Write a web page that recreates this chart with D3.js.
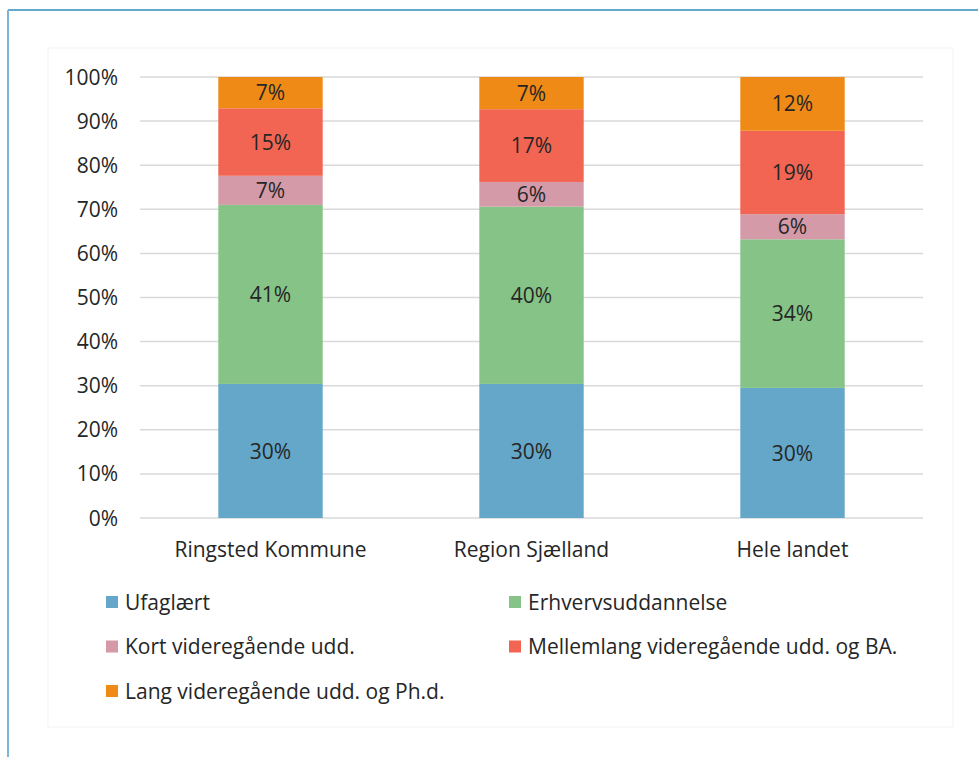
<!DOCTYPE html>
<meta charset="utf-8">
<html>
<head>
<style>
  body { margin: 0; background: #fff; }
  svg text { font-family: "Open Sans", "Noto Sans", sans-serif; fill: #262626; }
  .grid line { stroke: #d9d9d9; stroke-width: 1.5; }
</style>
</head>
<body>
<svg width="978" height="757"></svg>
<script src="https://d3js.org/d3.v7.min.js"></script>
<script>
// data
var regions = ["Ringsted Kommune", "Region Sjælland", "Hele landet"];
var series = ["Ufaglært", "Erhvervsuddannelse", "Kort videregående udd.",
              "Mellemlang videregående udd. og BA.", "Lang videregående udd. og Ph.d."];
var ufaglaert = [30.4, 30.4, 29.5];
var erhverv   = [40.6, 40.2, 33.7];
var kort      = [6.6, 5.6, 5.7];
var mellem    = [15.3, 16.5, 18.9];
var lang      = [7.1, 7.3, 12.2];
var yTicks = [0, 10, 20, 30, 40, 50, 60, 70, 80, 90, 100];
var colors = ["#64a7c9", "#85c386", "#d49aa8", "#f26553", "#f08a16"];

var svg = d3.select("svg"),
    margin = {top: 77, right: 55, bottom: 239, left: 140},
    width = 978 - margin.left - margin.right,
    height = 757 - margin.top - margin.bottom,
    fontSize = "21px";

// outer frame
svg.append("line").attr("x1", 8).attr("x2", 978).attr("y1", 10).attr("y2", 10)
   .attr("stroke", "#64a8cc").attr("stroke-width", 2);
svg.append("line").attr("x1", 8).attr("x2", 8).attr("y1", 10).attr("y2", 757)
   .attr("stroke", "#7ab6d6").attr("stroke-width", 2);
// chart area frame
svg.append("rect").attr("x", 48).attr("y", 48).attr("width", 905).attr("height", 679)
   .attr("fill", "none").attr("stroke", "#f3f3f3");

var g = svg.append("g").attr("transform", "translate(" + margin.left + "," + margin.top + ")");

var x = d3.scaleBand().domain(regions).range([0, width]).paddingInner(0.6).paddingOuter(0.3);
var y = d3.scaleLinear().domain([0, 100]).range([height, 0]);

g.append("g").attr("class", "grid")
  .selectAll("line").data(yTicks).enter().append("line")
  .attr("x1", 0).attr("x2", width)
  .attr("y1", function(d) { return y(d); }).attr("y2", function(d) { return y(d); });

g.append("g").selectAll("text").data(yTicks).enter().append("text")
  .attr("x", -22).attr("y", function(d) { return y(d); })
  .attr("dy", "0.36em").attr("text-anchor", "end")
  .style("font-size", fontSize)
  .text(function(d) { return d + "%"; });

var table = regions.map(function(r, i) {
  return {region: r, s0: ufaglaert[i], s1: erhverv[i], s2: kort[i], s3: mellem[i], s4: lang[i]};
});
var stack = d3.stack().keys(["s0", "s1", "s2", "s3", "s4"]);
var layers = stack(table);

var layer = g.selectAll(".layer").data(layers).enter().append("g")
  .attr("fill", function(d, i) { return colors[i]; });

layer.selectAll("rect").data(function(d) { return d; }).enter().append("rect")
  .attr("x", function(d) { return x(d.data.region); })
  .attr("width", x.bandwidth())
  .attr("y", function(d) { return y(d[1]); })
  .attr("height", function(d) { return y(d[0]) - y(d[1]); });

layer.selectAll("text").data(function(d) { return d; }).enter().append("text")
  .attr("x", function(d) { return x(d.data.region) + x.bandwidth() / 2; })
  .attr("y", function(d) { return (y(d[0]) + y(d[1])) / 2; })
  .attr("dy", "0.36em").attr("text-anchor", "middle")
  .style("font-size", fontSize)
  .text(function(d) { return Math.round(d[1] - d[0]) + "%"; });

g.append("g").selectAll("text").data(regions).enter().append("text")
  .attr("x", function(d) { return x(d) + x.bandwidth() / 2; })
  .attr("y", height + 39)
  .attr("text-anchor", "middle")
  .style("font-size", fontSize)
  .text(function(d) { return d; });

// legend
var legend = svg.append("g").selectAll("g").data(series).enter().append("g")
  .attr("transform", function(d, i) {
    return "translate(" + (i % 2 === 0 ? 106 : 509) + "," + (602 + Math.floor(i / 2) * 44.5) + ")";
  });
legend.append("rect").attr("x", 0).attr("y", -6).attr("width", 12).attr("height", 12)
  .attr("fill", function(d, i) { return colors[i]; });
legend.append("text").attr("x", 19).attr("dy", "0.36em")
  .style("font-size", fontSize)
  .text(function(d) { return d; });
</script>
</body>
</html>
